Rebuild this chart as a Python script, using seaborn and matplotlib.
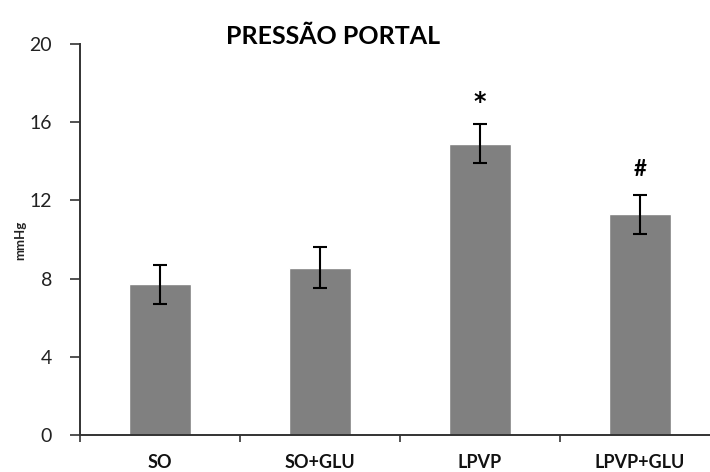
import matplotlib
matplotlib.use("Agg")
import matplotlib.pyplot as plt
import seaborn as sns
import pandas as pd
from matplotlib.ticker import FixedLocator

groups = ["SO", "SO+GLU", "LPVP", "LPVP+GLU"]
means = [7.7, 8.55, 14.9, 11.3]
errors = [1.0, 1.05, 1.0, 1.0]
marks = ["", "", "*", "#"]
yticks = [0, 4, 8, 12, 16, 20]

sns.set_style("white")
plt.rcParams["font.family"] = ["Lato", "DejaVu Sans"]

df = pd.DataFrame({"grupo": groups, "mmHg": means})

fig = plt.figure(figsize=(7.10, 4.72), dpi=100)
ax = fig.add_axes([80 / 710, 37 / 472, 640 / 710, 391 / 472])

sns.barplot(data=df, x="grupo", y="mmHg", color="#808080", saturation=1,
            width=0.39, errorbar=None, ax=ax)
ax.errorbar(range(len(groups)), means, yerr=errors, fmt="none",
            ecolor="black", elinewidth=1.5, capsize=5, capthick=1.5)

for i, (m, e, s) in enumerate(zip(means, errors, marks)):
    if s == "*":
        ax.text(i, m + e + 1.15, s, ha="center", va="center",
                fontsize=17, fontweight="bold", color="black",
                family="DejaVu Sans")
    elif s:
        ax.text(i, m + e + 0.75, s, ha="center", va="bottom",
                fontsize=16, fontweight="bold", color="black")

ax.set_xlim(-0.5, 3.5)
ax.set_ylim(0, 20)
ax.set_yticks(yticks)
ax.set_yticklabels([str(t) for t in yticks], fontsize=14, color="#222222")
ax.set_xticks(range(len(groups)))
ax.set_xticklabels(groups, fontsize=13, fontweight="bold", color="#111111")
ax.xaxis.set_minor_locator(FixedLocator([-0.5, 0.5, 1.5, 2.5, 3.5]))
ax.tick_params(axis="x", which="major", length=0, pad=14)
ax.tick_params(axis="x", which="minor", length=5, width=1.2, color="#333333",
               direction="out", bottom=True)
ax.tick_params(axis="y", length=7, width=1.2, color="#333333",
               direction="out", left=True, pad=13)

ax.set_xlabel("")
ax.set_ylabel("")
fig.text(20 / 710, 1 - 240 / 472, "mmHg", rotation=90, ha="center",
         va="center", fontsize=9.5, fontweight="bold", color="#222222")

for side in ["top", "right"]:
    ax.spines[side].set_visible(False)
for side in ["left", "bottom"]:
    ax.spines[side].set_color("#333333")
    ax.spines[side].set_linewidth(1.4)

fig.text(333 / 710, 1 - 36 / 472, "PRESSÃO PORTAL", ha="center", va="center",
         fontsize=18, fontweight="bold", color="black")

fig.savefig("out.png", dpi=100, facecolor="white")
